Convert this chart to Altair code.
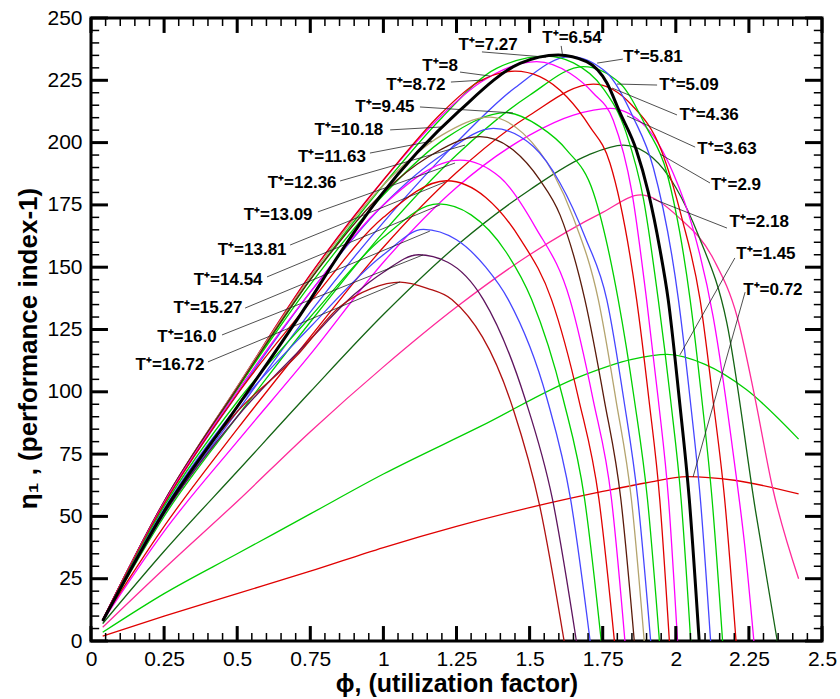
import altair as alt
import pandas as pd

# ---------------- data ----------------
SERIES = ["0.72", "1.45", "2.18", "2.9", "3.63", "4.36", "5.09", "5.81", "6.54", "7.27", "8",
          "8.72", "9.45", "10.18", "11.63", "12.36", "13.09", "13.81", "14.54", "15.27", "16.0", "16.72"]
COLORS = ["#e00000", "#00d000", "#ff2a9a", "#146414", "#ff00ff", "#e00000", "#00d000", "#4646ff", "#000000",
          "#00d000", "#ff00ff", "#e00000", "#00d000", "#b4a46e", "#4646ff", "#5a1a0a", "#ff00ff", "#e00000",
          "#00d000", "#4646ff", "#5e145e", "#b01010"]

PHI_072 = [0.04, 0.25, 0.5, 0.75, 1.0, 1.25, 1.5, 1.75, 1.9, 2.04, 2.2, 2.42]
ETA_072 = [2, 10, 19, 28, 37.5, 46, 53.5, 60, 63.5, 66, 64.5, 59]
PHI_145 = [0.04, 0.25, 0.5, 0.75, 1.0, 1.33, 1.67, 1.85, 1.97, 2.1, 2.24, 2.42]
ETA_145 = [3.5, 19, 35, 51, 67, 86, 106, 113, 115, 111, 101, 81]
PHI_218 = [0.04, 0.25, 0.5, 0.75, 1.0, 1.25, 1.5, 1.75, 1.88, 2.01, 2.13, 2.21, 2.27, 2.33, 2.42]
ETA_218 = [5.5, 29, 56, 84, 110, 134, 155, 172, 179, 170, 153, 130, 98, 62, 25]
PHI_290 = [0.04, 0.25, 0.5, 0.75, 1.0, 1.26, 1.5, 1.7, 1.82, 1.92, 2.0, 2.08, 2.174, 2.273, 2.347]
ETA_290 = [7, 36, 68, 100, 131, 159.6, 181, 195, 199, 194, 182, 162, 128, 52, 0]
PHI_363 = [0.04, 0.25, 0.5, 0.75, 1.0, 1.25, 1.5, 1.65, 1.775, 1.9, 1.99, 2.06, 2.128, 2.2, 2.236, 2.267]
ETA_363 = [8, 44, 80, 115, 152, 182, 203, 211, 213.7, 206, 188, 165, 130, 72, 38, 0]
PHI_436 = [0.04, 0.25, 0.5, 0.75, 1.0, 1.25, 1.5, 1.718, 1.85, 1.95, 2.02, 2.083, 2.127, 2.167, 2.206]
ETA_436 = [8.5, 46, 85, 122, 158, 188, 211, 223.5, 215, 197, 170, 137, 97, 57, 0]
PHI_509 = [0.04, 0.25, 0.5, 0.75, 1.0, 1.25, 1.5, 1.684, 1.809, 1.9, 1.969, 2.049, 2.089, 2.124, 2.16]
ETA_509 = [8, 50, 90, 128, 164, 195, 219, 230.5, 223.8, 206, 188, 137, 97, 57, 0]
PHI_581 = [0.04, 0.25, 0.5, 0.75, 1.0, 1.25, 1.45, 1.638, 1.764, 1.855, 1.923, 2.009, 2.049, 2.084, 2.119]
ETA_581 = [8, 51, 92, 132, 168, 200, 222, 234.5, 228, 210, 190, 137, 97, 57, 0]
PHI_654 = [0.04, 0.25, 0.5, 0.75, 0.829, 0.988, 1.262, 1.467, 1.598, 1.695, 1.764, 1.809, 1.865, 1.906,
           1.946, 1.974, 2.012, 2.046, 2.08]
ETA_654 = [8, 52, 94, 137, 151.6, 178.3, 213, 231.8, 235.2, 232.5, 224, 212, 197, 180, 157, 137, 97, 57, 0]
PHI_727 = [0.04, 0.25, 0.5, 0.75, 1.0, 1.2, 1.387, 1.558, 1.65, 1.75, 1.83, 1.89, 1.94, 1.982, 2.018, 2.051]
ETA_727 = [8.5, 55, 101, 145, 183, 210, 229.8, 234.7, 232, 222, 204, 177, 137, 97, 57, 0]
PHI_800 = [0.04, 0.25, 0.5, 0.75, 1.0, 1.2, 1.33, 1.524, 1.638, 1.718, 1.786, 1.85, 1.9, 1.94, 1.975, 2.006]
ETA_800 = [8.5, 56, 102, 147, 185, 211, 224, 232.5, 227.8, 219.8, 209, 180, 137, 97, 57, 0]
PHI_872 = [0.04, 0.25, 0.5, 0.75, 1.0, 1.2, 1.32, 1.45, 1.535, 1.627, 1.706, 1.775, 1.866, 1.908, 1.945, 1.978]
ETA_872 = [8.5, 56, 102, 147, 185, 212, 224, 228.7, 226.5, 218.4, 206.4, 191.7, 137, 97, 57, 0]
PHI_945 = [0.04, 0.25, 0.5, 0.75, 1.0, 1.216, 1.42, 1.535, 1.627, 1.718, 1.803, 1.858, 1.903, 1.944]
ETA_945 = [8.5, 55.5, 101, 143, 179, 202, 212, 206.4, 197, 180, 137, 97, 57, 0]
PHI_1018 = [0.04, 0.25, 0.5, 0.75, 1.0, 1.2, 1.365, 1.478, 1.581, 1.649, 1.735, 1.795, 1.848, 1.892]
ETA_1018 = [8.5, 56, 102, 146, 183, 203, 210.2, 203.7, 187.7, 170, 137, 97, 57, 0]
PHI_1163 = [0.04, 0.25, 0.5, 0.75, 1.0, 1.2, 1.376, 1.513, 1.604, 1.69, 1.764, 1.822, 1.87, 1.914]
ETA_1163 = [8.5, 55, 99, 140, 175, 195, 205.7, 198.4, 183.8, 162, 137, 97, 57, 0]
PHI_1236 = [0.04, 0.25, 0.5, 0.75, 1.0, 1.15, 1.33, 1.444, 1.535, 1.604, 1.689, 1.755, 1.812, 1.858]
ETA_1236 = [8.5, 56, 101.5, 145, 180, 194, 202.4, 197, 185, 171, 137, 97, 57, 0]
PHI_1309 = [0.04, 0.25, 0.5, 0.75, 1.0, 1.262, 1.4, 1.52, 1.638, 1.717, 1.78, 1.826]
ETA_1309 = [8.5, 55.5, 100, 140, 175, 193, 186, 166, 137, 97, 57, 0]
PHI_1381 = [0.04, 0.25, 0.5, 0.75, 1.0, 1.216, 1.35, 1.47, 1.575, 1.668, 1.737, 1.79]
ETA_1381 = [8.5, 55, 99, 136, 170, 184.7, 178, 161, 137, 97, 57, 0]
PHI_1454 = [0.04, 0.25, 0.5, 0.75, 1.0, 1.188, 1.3, 1.42, 1.507, 1.615, 1.688, 1.745]
ETA_1454 = [8, 54, 96, 130, 162, 175.4, 171, 156, 137, 97, 57, 0]
PHI_1527 = [0.04, 0.25, 0.5, 0.75, 1.0, 1.137, 1.25, 1.35, 1.427, 1.56, 1.64, 1.707]
ETA_1527 = [8, 53, 94, 126, 155, 165.2, 161, 150, 137, 97, 57, 0]
PHI_1600 = [0.04, 0.25, 0.5, 0.75, 0.9, 1.0, 1.12, 1.22, 1.342, 1.485, 1.578, 1.66]
ETA_1600 = [8, 51, 90, 121, 139, 148, 155, 152, 137, 97, 57, 0]
PHI_1672 = [0.04, 0.25, 0.5, 0.7, 0.85, 0.96, 1.057, 1.15, 1.234, 1.444, 1.535, 1.618]
ETA_1672 = [8, 52, 92, 114, 134, 141.5, 144, 141.5, 137, 93, 54, 0]

CURVES = [PHI_072, PHI_145, PHI_218, PHI_290, PHI_363, PHI_436, PHI_509, PHI_581, PHI_654, PHI_727, PHI_800,
          PHI_872, PHI_945, PHI_1018, PHI_1163, PHI_1236, PHI_1309, PHI_1381, PHI_1454, PHI_1527, PHI_1600, PHI_1672]
VALUES = [ETA_072, ETA_145, ETA_218, ETA_290, ETA_363, ETA_436, ETA_509, ETA_581, ETA_654, ETA_727, ETA_800,
          ETA_872, ETA_945, ETA_1018, ETA_1163, ETA_1236, ETA_1309, ETA_1381, ETA_1454, ETA_1527, ETA_1600, ETA_1672]

# label anchor (data units) and leader line start/end (data units)
LABEL_X = [2.332, 2.308, 2.285, 2.206, 2.175, 2.114, 2.045, 1.922, 1.645, 1.358, 1.194,
           1.111, 1.005, 0.882, 0.824, 0.722, 0.640, 0.551, 0.469, 0.400, 0.328, 0.270]
LABEL_Y = [140.9, 155.3, 168.1, 183.0, 197.4, 211.1, 223.1, 234.3, 242.0, 239.2, 230.7,
           223.1, 214.3, 205.1, 194.2, 183.8, 170.9, 156.9, 144.9, 133.6, 122.0, 110.8]
LEAD_X1 = [2.237, 2.202, 2.175, 2.117, 2.066, 2.004, 1.936, 1.819, 1.608, 1.337, 1.262,
           1.231, 1.125, 1.023, 0.954, 0.852, 0.776, 0.681, 0.602, 0.527, 0.448, 0.400]
LEAD_Y1 = [140.0, 153.7, 165.7, 183.8, 198.2, 211.1, 223.1, 233.5, 238.8, 236.4, 228.3,
           224.3, 214.3, 205.1, 195.8, 184.6, 172.2, 158.9, 146.1, 133.6, 122.8, 112.0]
LEAD_X2 = [2.059, 2.014, 1.922, 1.946, 1.833, 1.782, 1.799, 1.731, 1.612, 1.556, 1.365,
           1.341, 1.443, 1.204, 1.166, 1.279, 1.245, 1.211, 1.194, 1.159, 1.135, 1.057]
LEAD_Y2 = [65.8, 114.8, 177.4, 195.4, 210.7, 221.9, 223.5, 231.9, 235.6, 234.3, 226.7,
           225.1, 211.9, 206.3, 200.6, 199.0, 191.8, 184.2, 175.0, 164.5, 154.9, 144.1]

X_MAJOR = [0, 0.25, 0.5, 0.75, 1.0, 1.25, 1.5, 1.75, 2.0, 2.25, 2.5]
Y_MAJOR = [0, 25, 50, 75, 100, 125, 150, 175, 200, 225, 250]
X_MINOR = [round(i * 0.05, 2) for i in range(51) if i % 5 != 0]
Y_MINOR = [i * 5 for i in range(51) if i % 5 != 0]

# tick sizes in data units (inward ticks on all four sides), drawn as thin filled rectangles
XT_MAJ, XT_MIN = 6.0, 3.2            # tick length along y for x-ticks
YT_MAJ, YT_MIN = 0.058, 0.028        # tick length along x for y-ticks
XW_MAJ, XW_MIN = 0.0052, 0.0026      # half thickness (x units) of x-ticks
YW_MAJ, YW_MIN = 0.60, 0.30          # half thickness (y units) of y-ticks

# ---------------- build tables ----------------
rows = []
for name, xs_, ys_ in zip(SERIES, CURVES, VALUES):
    for xv, yv in zip(xs_, ys_):
        rows.append({"series": name, "phi": xv, "eta": yv})
df = pd.DataFrame(rows)
df_col = df[df.series != "6.54"]
df_blk = df[df.series == "6.54"]

lab = pd.DataFrame({"text": ["T\u207a=" + s for s in SERIES], "x": LABEL_X, "y": LABEL_Y,
                    "x1": LEAD_X1, "y1": LEAD_Y1, "x2": LEAD_X2, "y2": LEAD_Y2})


def tick_rects(xvals, yvals, xl, yl, xw, yw):
    out = []
    for v in xvals:
        out.append({"ra": v - xw, "rb": v + xw, "rc": 0.0, "rd": xl})
        out.append({"ra": v - xw, "rb": v + xw, "rc": 250.0 - xl, "rd": 250.0})
    for v in yvals:
        out.append({"ra": 0.0, "rb": yl, "rc": v - yw, "rd": v + yw})
        out.append({"ra": 2.5 - yl, "rb": 2.5, "rc": v - yw, "rd": v + yw})
    return pd.DataFrame(out)


ticks_major = tick_rects(X_MAJOR, Y_MAJOR, XT_MAJ, YT_MAJ, XW_MAJ, YW_MAJ)
ticks_minor = tick_rects(X_MINOR, Y_MINOR, XT_MIN, YT_MIN, XW_MIN, YW_MIN)

W, H = 731, 623
FONT = "Liberation Sans"
xs = alt.Scale(domain=[0, 2.5], nice=False, zero=False)
ys = alt.Scale(domain=[0, 250], nice=False, zero=False)

xax = alt.Axis(values=X_MAJOR, format=".2~f", labelFont=FONT, labelFontSize=21,
               labelColor="black", ticks=False, domain=False, grid=False, labelPadding=7, labelFlush=False,
               labelOverlap=False, title="\u03d5, (utilization factor)", titleFont=FONT,
               titleFontSize=25, titleFontWeight="bold", titleColor="black", titlePadding=2)
yax = alt.Axis(values=Y_MAJOR, format="d", labelFont=FONT, labelFontSize=21,
               labelColor="black", ticks=False, domain=False, grid=False, labelPadding=9, labelFlush=False,
               labelOverlap=False, title="\u03b7\u2081 , (performance index-1)", titleFont=FONT,
               titleFontSize=26, titleFontWeight="bold", titleColor="black",
               titleX=-63, titleY=330, titleAngle=-90, titleAlign="center", titleBaseline="middle")

base_lines = alt.Chart(df_col).mark_line(strokeWidth=1.3, interpolate="monotone").encode(
    x=alt.X("phi:Q", scale=xs, axis=xax),
    y=alt.Y("eta:Q", scale=ys, axis=yax),
    color=alt.Color("series:N", scale=alt.Scale(domain=SERIES, range=COLORS), legend=None),
    detail="series:N",
)
black_line = alt.Chart(df_blk).mark_line(strokeWidth=3, color="black", interpolate="monotone").encode(
    x=alt.X("phi:Q", scale=xs), y=alt.Y("eta:Q", scale=ys))

leaders = alt.Chart(lab).mark_rule(color="#222222", strokeWidth=0.8).encode(
    x=alt.X("x1:Q", scale=xs), y=alt.Y("y1:Q", scale=ys), x2="x2:Q", y2="y2:Q")
labels = alt.Chart(lab).mark_text(font=FONT, fontSize=17, fontWeight="bold", color="black",
                                  align="center", baseline="middle").encode(
    x=alt.X("x:Q", scale=xs), y=alt.Y("y:Q", scale=ys), text="text:N")

tick_major_layer = alt.Chart(ticks_major).mark_rect(color="black").encode(
    x=alt.X("ra:Q", scale=xs), x2="rb:Q", y=alt.Y("rc:Q", scale=ys), y2="rd:Q")
tick_minor_layer = alt.Chart(ticks_minor).mark_rect(color="black").encode(
    x=alt.X("ra:Q", scale=xs), x2="rb:Q", y=alt.Y("rc:Q", scale=ys), y2="rd:Q")

chart = alt.layer(
    base_lines, leaders, black_line, labels, tick_minor_layer, tick_major_layer,
).properties(
    width=W, height=H,
    autosize=alt.AutoSizeParams(type="none"),
    padding={"left": 91, "top": 18, "right": 18, "bottom": 58},
    background="white",
).configure_view(stroke="black", strokeWidth=3)

chart.save("out.html", embed_options={"renderer": "svg", "actions": False})
